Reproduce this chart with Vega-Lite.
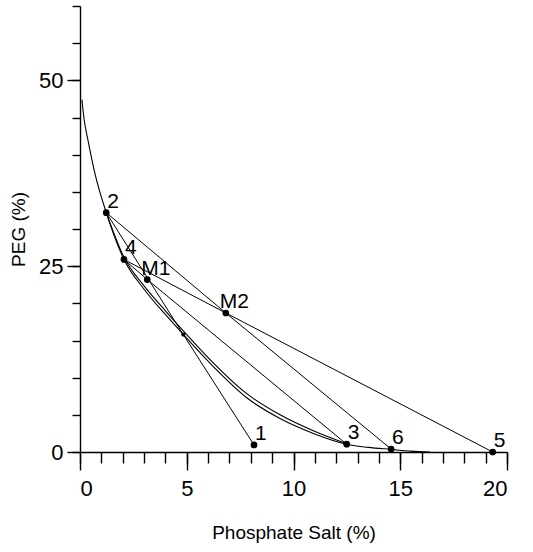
{
  "$schema": "https://vega.github.io/schema/vega-lite/v6.json",
  "width": 427,
  "height": 446,
  "autosize": {"type": "none"},
  "padding": {"left": 80, "top": 6, "right": 26, "bottom": 100},
  "background": "white",
  "config": {
    "view": {"stroke": null},
    "font": "Liberation Sans",
    "axis": {"grid": false, "domainColor": "black", "tickColor": "black", "labelColor": "black", "titleColor": "black", "domainWidth": 1.4, "tickWidth": 1.4}
  },
  "datasets": {
    "curves": [
      {"curve": "A", "x": 0.09, "y": 47.4}, {"curve": "A", "x": 0.2, "y": 44.6}, {"curve": "A", "x": 0.37, "y": 42.0}, {"curve": "A", "x": 0.69, "y": 37.6}, {"curve": "A", "x": 1.23, "y": 32.2}, {"curve": "A", "x": 2.06, "y": 25.9}, {"curve": "A", "x": 3.0, "y": 21.9}, {"curve": "A", "x": 4.0, "y": 18.5}, {"curve": "A", "x": 4.84, "y": 15.8}, {"curve": "A", "x": 6.24, "y": 11.5}, {"curve": "A", "x": 7.81, "y": 7.3}, {"curve": "A", "x": 9.37, "y": 4.5}, {"curve": "A", "x": 10.93, "y": 2.5}, {"curve": "A", "x": 12.49, "y": 1.05}, {"curve": "A", "x": 13.5, "y": 0.62}, {"curve": "A", "x": 14.57, "y": 0.35}, {"curve": "A", "x": 15.5, "y": 0.12}, {"curve": "A", "x": 16.4, "y": 0.0},
      {"curve": "B", "x": 1.23, "y": 32.2}, {"curve": "B", "x": 2.06, "y": 26.2}, {"curve": "B", "x": 3.0, "y": 22.35}, {"curve": "B", "x": 4.0, "y": 19.0}, {"curve": "B", "x": 4.84, "y": 16.3}, {"curve": "B", "x": 6.24, "y": 12.0}, {"curve": "B", "x": 7.81, "y": 7.85}, {"curve": "B", "x": 9.37, "y": 5.0}, {"curve": "B", "x": 10.93, "y": 2.85}, {"curve": "B", "x": 12.49, "y": 1.1}
    ],
    "ties": [
      {"tie": "t1", "o": 1, "x": 1.23, "y": 32.2}, {"tie": "t1", "o": 2, "x": 4.84, "y": 15.8}, {"tie": "t1", "o": 3, "x": 8.15, "y": 0.95},
      {"tie": "t2", "o": 1, "x": 1.23, "y": 32.2}, {"tie": "t2", "o": 2, "x": 6.83, "y": 18.7}, {"tie": "t2", "o": 3, "x": 14.57, "y": 0.4},
      {"tie": "t3", "o": 1, "x": 2.06, "y": 25.9}, {"tie": "t3", "o": 2, "x": 6.83, "y": 18.7}, {"tie": "t3", "o": 3, "x": 19.33, "y": 0.0},
      {"tie": "t4", "o": 1, "x": 2.06, "y": 25.9}, {"tie": "t4", "o": 2, "x": 3.15, "y": 23.2}, {"tie": "t4", "o": 3, "x": 12.49, "y": 1.05}
    ],
    "points": [
      {"label": "2", "x": 1.23, "y": 32.2},
      {"label": "4", "x": 2.06, "y": 25.9},
      {"label": "M1", "x": 3.15, "y": 23.2},
      {"label": "M2", "x": 6.83, "y": 18.7},
      {"label": "1", "x": 8.15, "y": 0.95},
      {"label": "3", "x": 12.49, "y": 1.05},
      {"label": "6", "x": 14.57, "y": 0.4},
      {"label": "5", "x": 19.33, "y": 0.0}
    ],
    "cp": [{"x": 4.84, "y": 15.8}]
  },
  "layer": [
    {
      "data": {"name": "curves"},
      "mark": {"type": "line", "interpolate": "monotone", "color": "black", "strokeWidth": 1.1},
      "encoding": {
        "x": {"field": "x", "type": "quantitative", "scale": {"domain": [0, 20], "nice": false},
          "axis": {"orient": "bottom", "values": [0, 5, 10, 15, 20], "tickSize": 18, "labelFontSize": 22, "labelPadding": 8, "title": "Phosphate Salt (%)", "titleFontSize": 19, "titleFontWeight": "normal", "titlePadding": 24}},
        "y": {"field": "y", "type": "quantitative", "scale": {"domain": [0, 60], "nice": false},
          "axis": {"orient": "left", "values": [0, 25, 50], "tickSize": 13, "labelFontSize": 22, "labelPadding": 4, "title": "PEG (%)", "titleFontSize": 19, "titleFontWeight": "normal", "titlePadding": 10}},
        "detail": {"field": "curve"}
      }
    },
    {
      "data": {"name": "ties"},
      "mark": {"type": "line", "color": "black", "strokeWidth": 1},
      "encoding": {
        "x": {"field": "x", "type": "quantitative", "scale": {"domain": [0, 20], "nice": false},
          "axis": {"orient": "bottom", "values": [0,1,2,3,4,5,6,7,8,9,10,11,12,13,14,15,16,17,18,19,20], "tickSize": 11, "labels": false, "domain": false, "title": null}},
        "y": {"field": "y", "type": "quantitative", "scale": {"domain": [0, 60], "nice": false},
          "axis": {"orient": "left", "values": [0,5,10,15,20,25,30,35,40,45,50,55,60], "tickSize": 8, "labels": false, "domain": false, "title": null}},
        "detail": {"field": "tie"},
        "order": {"field": "o"}
      }
    },
    {
      "data": {"name": "points"},
      "mark": {"type": "circle", "color": "black", "opacity": 1, "size": 45},
      "encoding": {
        "x": {"field": "x", "type": "quantitative", "axis": null},
        "y": {"field": "y", "type": "quantitative", "axis": null}
      }
    },
    {
      "data": {"name": "cp"},
      "mark": {"type": "circle", "color": "black", "opacity": 1, "size": 18},
      "encoding": {
        "x": {"field": "x", "type": "quantitative", "axis": null},
        "y": {"field": "y", "type": "quantitative", "axis": null}
      }
    },
    {
      "data": {"name": "points"},
      "transform": [{"filter": "datum.label != 'M1' && datum.label != 'M2'"}],
      "mark": {"type": "text", "align": "left", "baseline": "alphabetic", "dx": 1, "dy": -5, "fontSize": 21, "color": "black"},
      "encoding": {
        "x": {"field": "x", "type": "quantitative", "axis": null},
        "y": {"field": "y", "type": "quantitative", "axis": null},
        "text": {"field": "label"}
      }
    },
    {
      "data": {"name": "points"},
      "transform": [{"filter": "datum.label == 'M1' || datum.label == 'M2'"}],
      "mark": {"type": "text", "align": "left", "baseline": "alphabetic", "dx": -6, "dy": -5, "fontSize": 21, "color": "black"},
      "encoding": {
        "x": {"field": "x", "type": "quantitative", "axis": null},
        "y": {"field": "y", "type": "quantitative", "axis": null},
        "text": {"field": "label"}
      }
    }
  ],
  "resolve": {"axis": {"x": "independent", "y": "independent"}}
}
